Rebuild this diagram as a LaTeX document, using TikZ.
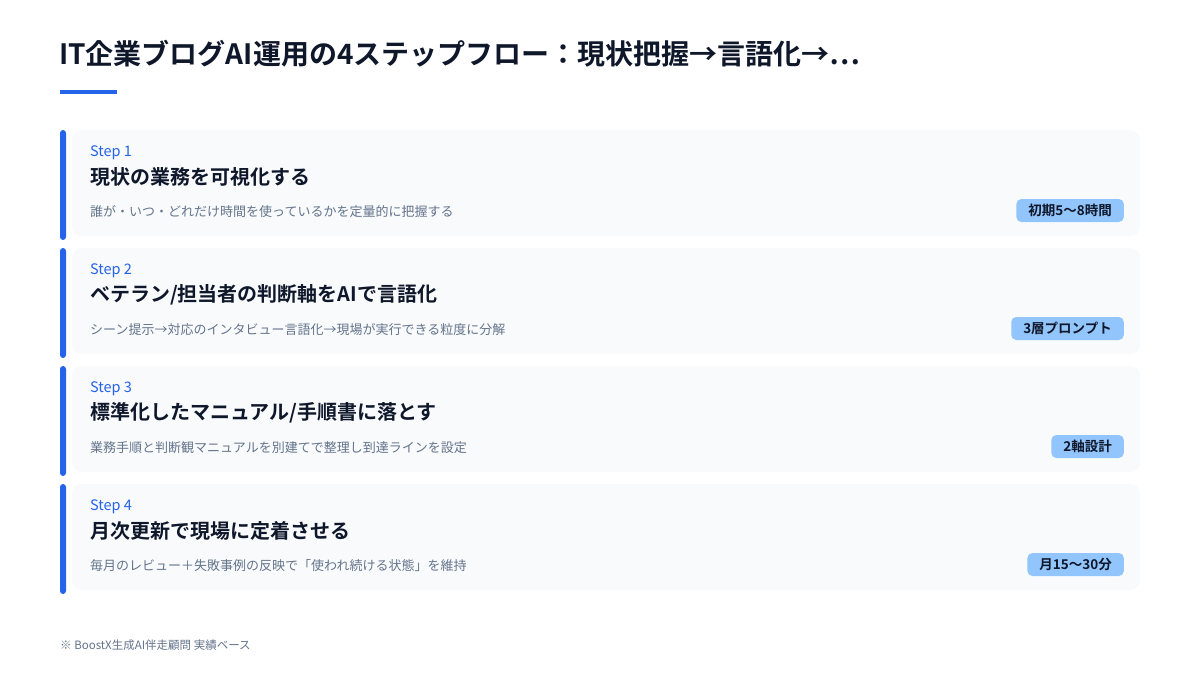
\documentclass[tikz,border=0pt]{standalone}
\usepackage{fontspec}
\setmainfont{Noto Sans CJK JP}[BoldFont={Noto Sans CJK JP Bold}]
\definecolor{bluebar}{HTML}{2563EB}
\definecolor{cardbg}{HTML}{F8FAFC}
\definecolor{titlecol}{HTML}{0F172A}
\definecolor{desccol}{HTML}{64748B}
\definecolor{badgebg}{HTML}{93C5FD}
\definecolor{footcol}{HTML}{64748B}
\tikzset{
  card/.style={fill=cardbg, rounded corners=10pt},
  bar/.style={fill=bluebar, rounded corners=3pt},
  steplbl/.style={anchor=west, inner sep=0pt, text=bluebar, font=\fontsize{14.5}{17}\selectfont},
  steptitle/.style={anchor=west, inner sep=0pt, text=titlecol, font=\fontsize{20}{24}\selectfont\bfseries},
  stepdesc/.style={anchor=west, inner sep=0pt, text=desccol, font=\fontsize{13}{16}\selectfont},
  badge/.style={anchor=east, fill=badgebg, rounded corners=5pt, text=titlecol, inner xsep=12pt, minimum height=23pt, font=\fontsize{13.5}{16}\selectfont\bfseries},
}
\newcommand{\mystepcard}[5]{%
  \pgfmathsetmacro{\yy}{130+118*#1}
  \fill[card] (72,\yy) rectangle (1140,\yy+106);
  \fill[bar] (60,\yy) rectangle (66,\yy+110);
  \node[steplbl] (lbl#1) at (90,\yy+22.5) {#2};
  \node[steptitle] (ttl#1) at (90,\yy+47) {#3};
  \node[stepdesc] (dsc#1) at (90,\yy+82) {#4};
  \node[badge] (bdg#1) at (1124,\yy+80.5) {#5};
}
\begin{document}
\begin{tikzpicture}[x=1pt,y=-1pt]
\useasboundingbox[fill=white] (0,0) rectangle (1200,675);
\node[anchor=west, inner sep=0pt, text=titlecol, font=\fontsize{28}{34}\selectfont\bfseries] (title) at (59,54) {IT企業ブログAI運用の4ステップフロー：現状把握→言語化→…};
\fill[bluebar] (60,90) rectangle (117,94);
\mystepcard{0}{Step 1}{現状の業務を可視化する}{誰が・いつ・どれだけ時間を使っているかを定量的に把握する}{初期5〜8時間}
\mystepcard{1}{Step 2}{ベテラン/担当者の判断軸をAIで言語化}{シーン提示→対応のインタビュー言語化→現場が実行できる粒度に分解}{3層プロンプト}
\mystepcard{2}{Step 3}{標準化したマニュアル/手順書に落とす}{業務手順と判断観マニュアルを別建てで整理し到達ラインを設定}{2軸設計}
\mystepcard{3}{Step 4}{月次更新で現場に定着させる}{毎月のレビュー＋失敗事例の反映で「使われ続ける状態」を維持}{月15〜30分}
\node[anchor=west, inner sep=0pt, text=footcol, font=\fontsize{11.5}{14}\selectfont] (foot) at (60,645) {※ BoostX生成AI伴走顧問 実績ベース};
\end{tikzpicture}
\end{document}
